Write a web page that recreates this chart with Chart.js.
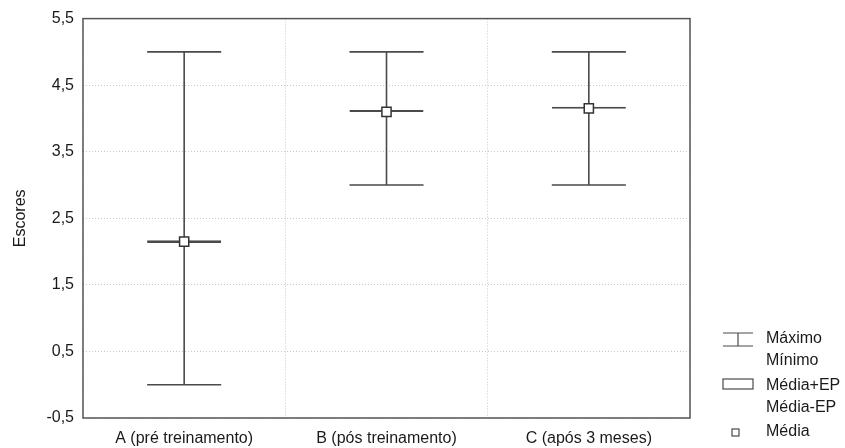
<!DOCTYPE html>
<html>
<head>
<meta charset="utf-8">
<script src="https://cdn.jsdelivr.net/npm/chart.js@4.4.0/dist/chart.umd.min.js"></script>
<style>
  html, body { margin: 0; padding: 0; background: #fff; }
  #wrap { width: 845px; height: 448px; }
</style>
</head>
<body>
<div id="wrap"><canvas id="chart" width="845" height="448"></canvas></div>
<script>
const categorias = ['A (pré treinamento)', 'B (pós treinamento)', 'C (após 3 meses)'];
const media = [2.15, 4.10, 4.15];
const erroPadrao = [0.02, 0.004, 0.004];
const maximo = [5, 5, 5];
const minimo = [0, 3, 3];
const yTicks = [-0.5, 0.5, 1.5, 2.5, 3.5, 4.5, 5.5];

const cinza = '#4a4a4a';
const fonte = "'Liberation Sans', Arial, sans-serif";

// caixas média ± EP como barras flutuantes
const caixas = media.map((m, i) => [m - erroPadrao[i], m + erroPadrao[i]]);

// bigodes max/min, desenhados antes dos datasets
const bigodes = {
    id: 'bigodes',
    beforeDatasetsDraw(chart) {
        const { ctx, scales: { x, y } } = chart;
        const barras = chart.getDatasetMeta(0).data;
        ctx.save();
        ctx.strokeStyle = cinza;
        ctx.lineWidth = 1.6;
        categorias.forEach((c, i) => {
            const cx = x.getPixelForValue(i);
            const meia = barras[i].width / 2;
            const yMax = y.getPixelForValue(maximo[i]);
            const yMin = y.getPixelForValue(minimo[i]);
            ctx.beginPath();
            ctx.moveTo(cx, yMax); ctx.lineTo(cx, yMin);
            ctx.moveTo(cx - meia, yMax); ctx.lineTo(cx + meia, yMax);
            ctx.moveTo(cx - meia, yMin); ctx.lineTo(cx + meia, yMin);
            ctx.stroke();
        });
        ctx.restore();
    }
};

// moldura e legenda
const moldura = {
    id: 'moldura',
    afterDraw(chart) {
        const { ctx, chartArea: a } = chart;
        ctx.save();
        ctx.strokeStyle = '#555';
        ctx.lineWidth = 1.5;
        ctx.strokeRect(a.left, a.top, a.right - a.left, a.bottom - a.top);

        // legenda
        ctx.strokeStyle = cinza;
        ctx.lineWidth = 1.2;
        ctx.beginPath();
        ctx.moveTo(723, 333); ctx.lineTo(753, 333);
        ctx.moveTo(738, 333); ctx.lineTo(738, 346);
        ctx.moveTo(723, 346); ctx.lineTo(753, 346);
        ctx.stroke();
        ctx.strokeRect(723, 379, 30, 10);
        ctx.fillStyle = '#fff';
        ctx.fillRect(732, 429, 7, 7);
        ctx.strokeRect(732, 429, 7, 7);

        ctx.fillStyle = '#1a1a1a';
        ctx.font = '16px ' + fonte;
        ctx.textBaseline = 'middle';
        ctx.textAlign = 'left';
        ctx.fillText('Máximo', 766, 339);
        ctx.fillText('Mínimo', 766, 361);
        ctx.fillText('Média+EP', 766, 386);
        ctx.fillText('Média-EP', 766, 408);
        ctx.fillText('Média', 766, 432);
        ctx.restore();
    }
};

new Chart(document.getElementById('chart'), {
    data: {
        labels: categorias,
        datasets: [{
            type: 'bar',
            data: caixas,
            backgroundColor: '#fff',
            borderColor: cinza,
            borderWidth: 2,
            borderSkipped: false,
            minBarLength: 2,
            barPercentage: 0.366,
            categoryPercentage: 1,
            order: 2
        }, {
            type: 'line',
            data: media,
            showLine: false,
            pointStyle: 'rect',
            pointRadius: 6.5,
            pointBackgroundColor: '#fff',
            pointBorderColor: '#333',
            pointBorderWidth: 1.5,
            order: 1
        }]
    },
    options: {
        responsive: false,
        animation: false,
        events: [],
        layout: { padding: { top: 15, right: 155, left: 0, bottom: 0 } },
        plugins: {
            legend: { display: false },
            tooltip: { enabled: false }
        },
        scales: {
            x: {
                offset: true,
                grid: { offset: true, color: '#c8c8c8', drawTicks: false },
                border: { display: false, dash: [1, 2] },
                ticks: { color: '#1a1a1a', font: { family: fonte, size: 16 }, padding: 11, maxRotation: 0 },
                afterFit(s) { s.height = 30; }
            },
            y: {
                min: -0.5,
                max: 5.5,
                afterBuildTicks(s) { s.ticks = yTicks.map(v => ({ value: v })); },
                grid: { color: '#c8c8c8', drawTicks: false },
                border: { display: false, dash: [1, 2] },
                ticks: {
                    color: '#1a1a1a',
                    font: { family: fonte, size: 16 },
                    padding: 9,
                    callback: v => v.toFixed(1).replace('.', ',')
                },
                title: {
                    display: true,
                    text: 'Escores',
                    color: '#1a1a1a',
                    font: { family: fonte, size: 16 },
                    padding: { top: 11, bottom: 0 }
                },
                afterFit(s) { s.width = 83; }
            }
        }
    },
    plugins: [bigodes, moldura]
});
</script>
</body>
</html>
